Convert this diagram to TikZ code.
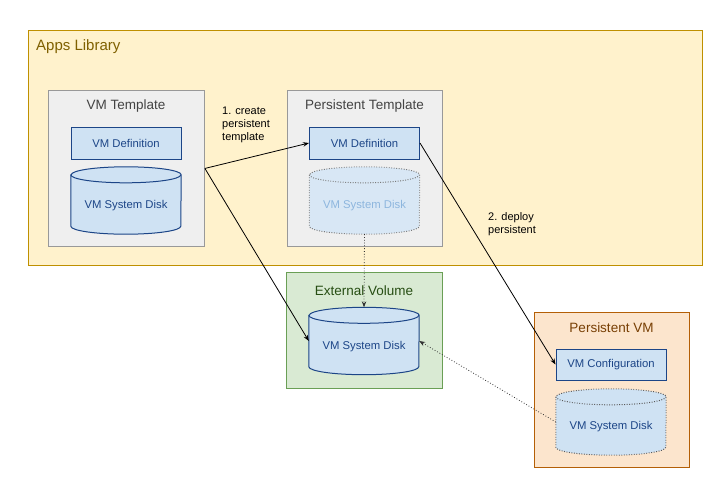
\documentclass[tikz,border=0pt]{standalone}
\usepackage{fontspec}
\setmainfont{Liberation Sans}
\usetikzlibrary{arrows.meta}
\definecolor{libfill}{HTML}{FFF2CC}
\definecolor{libdraw}{HTML}{BF9000}
\definecolor{libtext}{HTML}{7F6000}
\definecolor{grayfill}{HTML}{EFEFEF}
\definecolor{graydraw}{HTML}{999999}
\definecolor{graytext}{HTML}{434343}
\definecolor{bluefill}{HTML}{CFE2F3}
\definecolor{bluedraw}{HTML}{1C4587}
\definecolor{bluetext}{HTML}{1C4587}
\definecolor{fadefill}{HTML}{D8E7F5}
\definecolor{fadetext}{HTML}{8DB6DE}
\definecolor{dotdraw}{HTML}{595959}
\definecolor{greenfill}{HTML}{D9EAD3}
\definecolor{greendraw}{HTML}{6A9F55}
\definecolor{greentext}{HTML}{274E13}
\definecolor{orangefill}{HTML}{FCE5CD}
\definecolor{orangedraw}{HTML}{B45F06}
\definecolor{orangetext}{HTML}{783F04}
\tikzset{
  frame/.style={rectangle, line width=0.9pt, inner sep=0pt, anchor=north west},
  ttl/.style={font=\fontsize{13.5}{15}\selectfont, anchor=center},
  defbox/.style={rectangle, draw=bluedraw, fill=bluefill, line width=1pt, minimum width=110pt, minimum height=32pt, inner sep=0pt, text=bluetext, font=\fontsize{11.3}{13}\selectfont},
  cylnode/.style={rectangle, minimum width=110pt, minimum height=67pt, inner sep=0pt},
  cyltext/.style={font=\fontsize{11.3}{13}\selectfont},
  cylsolid/.style={draw=bluedraw, fill=bluefill, line width=1pt},
  cyldot/.style={draw=dotdraw, line width=1pt, dash pattern=on 0.9pt off 1.6pt},
  conn/.style={draw=black, line width=0.8pt, -{Stealth[length=6pt,width=4.5pt]}},
  dconn/.style={draw=black!80, line width=0.8pt, dotted, -{Stealth[length=6pt,width=4.5pt]}},
  note/.style={font=\fontsize{11}{13}\selectfont, align=left, anchor=north west, inner sep=0pt},
}
\newcommand{\cylpath}[2]{%
  \path[#2] ([yshift=-8pt]#1.north west) -- ([yshift=8pt]#1.south west)
    arc[start angle=180,end angle=360,x radius=55pt,y radius=8pt]
    -- ([yshift=-8pt]#1.north east)
    arc[start angle=0,end angle=180,x radius=55pt,y radius=8pt] -- cycle;
  \path[#2,fill=none] ([yshift=-8pt]#1.north west)
    arc[start angle=180,end angle=360,x radius=55pt,y radius=8pt];
}
\begin{document}
\begin{tikzpicture}[x=1pt,y=-1pt]
\useasboundingbox[fill=white] (0,0) rectangle (728,493);
% Apps Library
\node[frame, draw=libdraw, fill=libfill, minimum width=674pt, minimum height=235pt] (lib) at (28,30) {};
\node[anchor=north west, inner sep=0pt, text=libtext, font=\fontsize{15}{17}\selectfont] (libt) at (36,39) {Apps Library};
% VM Template
\node[frame, draw=graydraw, fill=grayfill, minimum width=156pt, minimum height=156pt] (vmt) at (48,90) {};
\node[ttl, text=graytext] (vmtt) at (126,106) {VM Template};
\node[defbox] (vdef) at (126,143) {VM Definition};
\node[cylnode] (vdisk) at (126,200.5) {};
\cylpath{vdisk}{cylsolid}
\node[cyltext, text=bluetext] (vdiskt) at (126,206) {VM System Disk};
% Persistent Template
\node[frame, draw=graydraw, fill=grayfill, minimum width=155pt, minimum height=156pt] (pt) at (287,90) {};
\node[ttl, text=graytext] (ptt) at (364.5,106) {Persistent Template};
\node[defbox] (pdef) at (364.5,143) {VM Definition};
\node[cylnode] (pdisk) at (364.5,200.5) {};
\cylpath{pdisk}{cyldot, draw=dotdraw!80, fill=fadefill}
\node[cyltext, text=fadetext] (pdiskt) at (364.5,206) {VM System Disk};
% External Volume
\node[frame, draw=greendraw, fill=greenfill, minimum width=156pt, minimum height=116pt] (ext) at (286,272) {};
\node[ttl, text=greentext] (extt) at (364,291) {External Volume};
\node[cylnode] (edisk) at (364,341) {};
\cylpath{edisk}{cylsolid}
\node[cyltext, text=bluetext] (ediskt) at (364,347) {VM System Disk};
% Persistent VM
\node[frame, draw=orangedraw, fill=orangefill, minimum width=155pt, minimum height=155pt] (pvm) at (534,312) {};
\node[ttl, text=orangetext] (pvmt) at (611.5,328) {Persistent VM};
\node[defbox, minimum height=31pt] (vconf) at (611,364.5) {VM Configuration};
\node[cylnode, minimum height=66pt] (vmdisk) at (611,422) {};
\cylpath{vmdisk}{cyldot, fill=bluefill}
\node[cyltext, text=bluetext] (vmdiskt) at (611,427) {VM System Disk};
% Notes
\node[note] (n1) at (222,107) {1. create\\persistent\\template};
\node[note] (n2) at (488,212) {2. deploy\\persistent};
% Connectors
\draw[conn] (vmt.east) -- (pdef.west);
\draw[conn] (vmt.east) -- (edisk.west);
\draw[conn] (pdef.east) -- (vconf.west);
\draw[dconn] (pdisk.south) -- (edisk.north);
\draw[dconn] (vmdisk.west) -- (edisk.east);
\end{tikzpicture}
\end{document}
